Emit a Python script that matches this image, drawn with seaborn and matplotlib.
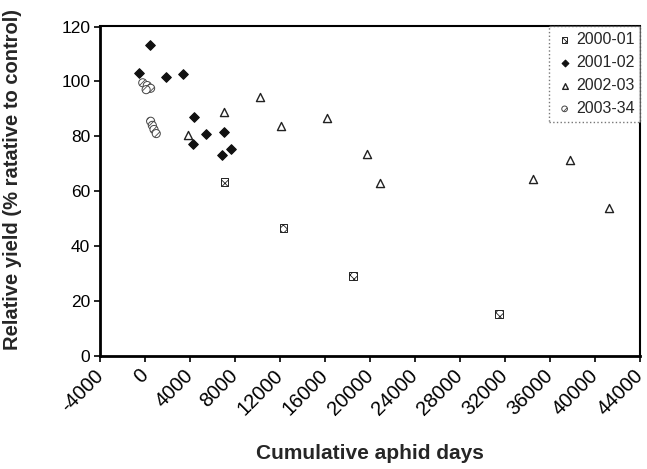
import matplotlib
matplotlib.use("Agg")
import matplotlib.pyplot as plt
import seaborn as sns
import pandas as pd

seasons = ["2000-01", "2001-02", "2002-03", "2003-34"]

x_2000 = [7050, 12300, 18500, 31450]
y_2000 = [63.4, 46.6, 29.2, 15.2]

x_2001 = [400, -550, 1900, 3400, 4350, 5400, 4250, 7050, 7600, 6800]
y_2001 = [113.3, 103.0, 101.5, 102.7, 87.0, 80.8, 77.2, 81.6, 75.4, 73.2]

x_2002 = [3800, 7050, 10200, 12050, 16200, 19750, 20900, 34500, 37750, 41250]
y_2002 = [80.5, 89.0, 94.4, 83.9, 86.7, 73.6, 63.0, 64.3, 71.4, 54.0]

x_2003 = [-200, 200, 500, 100, 500, 650, 800, 1000]
y_2003 = [99.5, 98.5, 97.5, 97.0, 85.5, 84.0, 82.5, 81.0]

x_ticks = list(range(-4000, 44001, 4000))
y_ticks = [0, 20, 40, 60, 80, 100, 120]

frames = []
for s, xs, ys in zip(seasons, [x_2000, x_2001, x_2002, x_2003],
                     [y_2000, y_2001, y_2002, y_2003]):
    frames.append(pd.DataFrame({"days": xs, "yield": ys, "season": s}))
df = pd.concat(frames, ignore_index=True)

sns.set_style("white")
plt.rcParams["font.family"] = ["Liberation Sans", "DejaVu Sans"]
plt.rcParams["hatch.linewidth"] = 0.6

fig = plt.figure(figsize=(6.47, 4.69), dpi=100)
ax = fig.add_axes([100 / 647, 1 - 356 / 469, 540 / 647, (356 - 26.5) / 469])

styles = {
    "2000-01": dict(marker="s", facecolor="white", edgecolor="#222222", hatch="xxxx", s=30, linewidth=0.7),
    "2001-02": dict(marker="D", facecolor="#111111", edgecolor="#111111", s=24, linewidth=0.8),
    "2002-03": dict(marker="^", facecolor="white", edgecolor="#222222", s=34, linewidth=1.0),
    "2003-34": dict(marker="o", facecolor="white", edgecolor="#444444", hatch="////", s=34, linewidth=0.7),
}

for s in seasons:
    sub = df[df["season"] == s]
    st = styles[s]
    sns.scatterplot(data=sub, x="days", y="yield", ax=ax, label=s,
                    marker=st["marker"], facecolor=st["facecolor"],
                    edgecolor=st["edgecolor"], s=st["s"],
                    linewidth=st["linewidth"], hatch=st.get("hatch"),
                    legend=True, zorder=3)

ax.set_xlim(-4000, 44000)
ax.set_ylim(0, 120)
ax.set_xticks(x_ticks)
ax.set_xticklabels([str(v) for v in x_ticks], rotation=45, ha="right",
                   va="center", rotation_mode="anchor", fontsize=14.5)
ax.set_yticks(y_ticks)
ax.set_yticklabels([str(v) for v in y_ticks], fontsize=12.5)
ax.tick_params(axis="both", direction="out", length=4, width=1.2, colors="black",
               bottom=True, left=True)
ax.tick_params(axis="x", pad=8)
ax.tick_params(axis="y", pad=3)
for sp in ax.spines.values():
    sp.set_visible(True)
    sp.set_color("black")
ax.spines["left"].set_linewidth(2.0)
ax.spines["bottom"].set_linewidth(2.0)
ax.spines["top"].set_linewidth(1.5)
ax.spines["right"].set_linewidth(1.5)

ax.set_xlabel("Cumulative aphid days", fontsize=15, fontweight="bold", labelpad=18)
ax.set_ylabel("Relative yield (% ratative to control)", fontsize=14.5, fontweight="bold")
ax.yaxis.set_label_coords(-0.145, 0.535)

leg = ax.legend(loc="upper right", fontsize=11.5, frameon=True, fancybox=False,
                borderpad=0.35, handletextpad=0.1, labelspacing=0.5,
                borderaxespad=0.0, handlelength=1.2, markerscale=0.7)
leg.get_frame().set_edgecolor("#555555")
leg.get_frame().set_linestyle(":")
leg.get_frame().set_linewidth(1.0)

fig.savefig("out.png", dpi=100)
